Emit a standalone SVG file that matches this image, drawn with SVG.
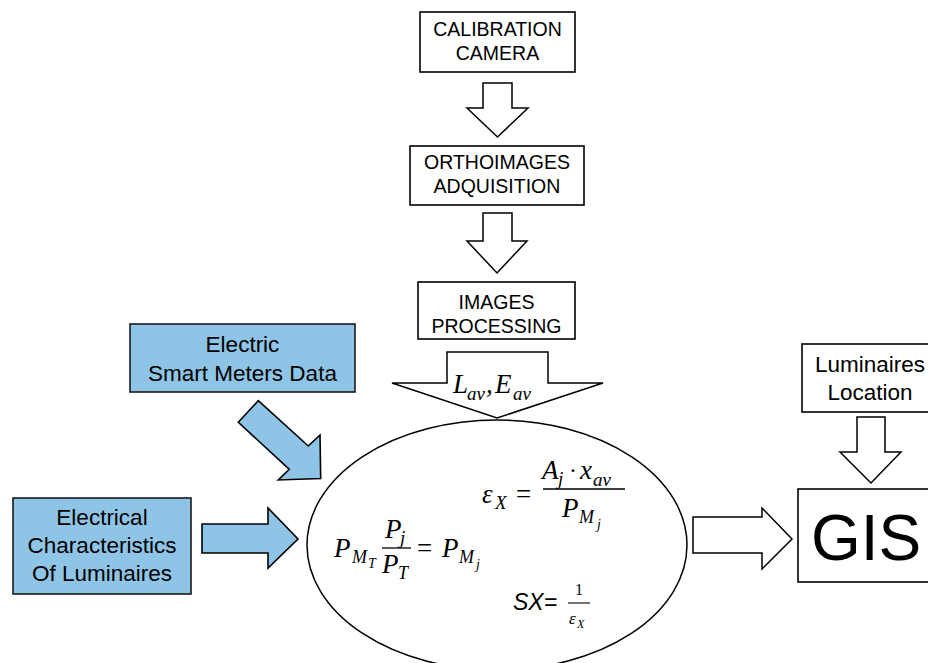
<svg xmlns="http://www.w3.org/2000/svg" width="928" height="663" viewBox="0 0 928 663">
<style>
.box{fill:#fff;stroke:#000;stroke-width:1.6}
.blue{fill:#8EC4E6;stroke:#1a1a1a;stroke-width:1.6}
.arr{fill:#fff;stroke:#000;stroke-width:1.5;stroke-linejoin:miter}
.barr{fill:#8EC4E6;stroke:#000;stroke-width:1.6;stroke-linejoin:miter}
.t{font-family:"Liberation Sans",Arial,sans-serif;fill:#000;text-anchor:middle}
.m{font-family:"Liberation Serif","Times New Roman",serif;font-style:italic;fill:#000}
.mu{font-family:"Liberation Serif","Times New Roman",serif;fill:#000}
.fl{stroke:#000;stroke-width:1.3}
</style>
<rect width="928" height="663" fill="#fff"/>

<g id="calibration">
<rect class="box" x="420" y="12" width="155" height="60"/>
<text class="t" x="497.5" y="36" font-size="19.5">CALIBRATION</text>
<text class="t" x="497.5" y="60" font-size="19.5">CAMERA</text>
</g>
<g id="orthoimages">
<rect class="box" x="410" y="146" width="174" height="59"/>
<text class="t" x="497" y="169" font-size="19.5">ORTHOIMAGES</text>
<text class="t" x="497" y="193" font-size="19.5">ADQUISITION</text>
</g>
<g id="processing">
<rect class="box" x="418" y="282" width="157" height="57"/>
<text class="t" x="496.5" y="309" font-size="19.5">IMAGES</text>
<text class="t" x="496.5" y="333" font-size="19.5">PROCESSING</text>
</g>
<g id="smartmeters">
<rect class="blue" x="130" y="324" width="225" height="68"/>
<text class="t" x="242.5" y="352" font-size="22.5">Electric</text>
<text class="t" x="242.5" y="381" font-size="22.5">Smart Meters Data</text>
</g>
<g id="characteristics">
<rect class="blue" x="13" y="498" width="178" height="96"/>
<text class="t" x="102" y="525" font-size="22.5">Electrical</text>
<text class="t" x="102" y="553" font-size="22.5">Characteristics</text>
<text class="t" x="102" y="581" font-size="22.5">Of Luminaires</text>
</g>
<g id="location">
<rect class="box" x="802" y="344" width="140" height="68"/>
<text class="t" x="870" y="372" font-size="22.5">Luminaires</text>
<text class="t" x="870" y="400" font-size="22.5">Location</text>
</g>
<g id="gis">
<rect class="box" x="798" y="489" width="140" height="93"/>
<text class="t" x="866" y="560" font-size="64">GIS</text>
</g>

<g id="model">
<ellipse cx="497" cy="545" rx="190" ry="125" fill="#fff" stroke="#000" stroke-width="1.5"/>
<!-- epsilon formula -->
<text class="m" x="482" y="503" font-size="27">ε</text>
<text class="m" x="495" y="509" font-size="19">X</text>
<text class="mu" x="516" y="503" font-size="27">=</text>
<text class="m" x="542" y="479" font-size="27">A</text>
<text class="m" x="558" y="485" font-size="19">j</text>
<text class="mu" x="569" y="478" font-size="24">·</text>
<text class="m" x="580" y="479" font-size="27">x</text>
<text class="m" x="593" y="486" font-size="19">av</text>
<line class="fl" x1="543" y1="489" x2="625" y2="489"/>
<text class="m" x="562" y="517" font-size="27">P</text>
<text class="m" x="579" y="523" font-size="18">M</text>
<text class="m" x="597" y="529" font-size="14">j</text>
<!-- P_MT formula -->
<text class="m" x="334" y="557" font-size="27">P</text>
<text class="m" x="352" y="563" font-size="18">M</text>
<text class="m" x="368" y="568" font-size="14">T</text>
<text class="m" x="385" y="538" font-size="27">P</text>
<text class="m" x="400" y="544" font-size="19">j</text>
<line class="fl" x1="382" y1="548" x2="411" y2="548"/>
<text class="m" x="382" y="573" font-size="27">P</text>
<text class="m" x="398" y="579" font-size="18">T</text>
<text class="mu" x="417" y="557" font-size="27">=</text>
<text class="m" x="442" y="557" font-size="27">P</text>
<text class="m" x="459" y="563" font-size="18">M</text>
<text class="m" x="476" y="569" font-size="14">j</text>
<!-- SX formula -->
<text x="513" y="610" font-family="Liberation Sans,Arial,sans-serif" font-style="italic" font-size="23">SX=</text>
<text class="mu" x="575" y="595" font-size="16">1</text>
<line x1="568" y1="603" x2="590" y2="603" stroke="#000" stroke-width="1.1"/>
<text class="m" x="569" y="624" font-size="17">ε</text>
<text class="m" x="577" y="628" font-size="12">X</text>
</g>

<g id="connectors">
<polygon class="arr" points="483,83 512,83 512,108 528,108 497.5,137 467,108 483,108"/>
<polygon class="arr" points="483,213 512,213 512,241 527,241 497,273 467,241 483,241"/>
<polygon class="arr" points="447,352 548,352 548,383 603,383 497,418 392,383 447,383"/>
<text class="m" x="453" y="393" font-size="27">L</text>
<text class="m" x="467" y="400" font-size="19">av</text>
<text class="m" x="486" y="393" font-size="27">,</text>
<text class="m" x="495" y="393" font-size="27">E</text>
<text class="m" x="513" y="400" font-size="19">av</text>
<polygon class="arr" points="857,417 885,417 885,452 901,452 871,483 840,452 857,452"/>
<polygon class="arr" points="693,517 762,517 762,508 792,539 762,569 762,553 693,553"/>
<polygon class="barr" points="202,524 268,524 268,508 298,539 268,568 268,553 202,553"/>
<polygon class="barr" points="238.3,422.3 258.3,400.7 308.3,446 320,435 320.7,478.5 278.3,480 289.3,469.3"/>
</g>
</svg>
